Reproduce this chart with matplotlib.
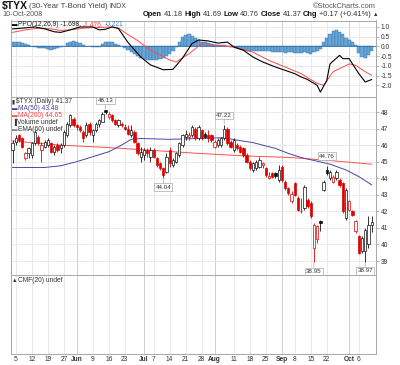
import matplotlib
matplotlib.use('Agg')
import matplotlib.pyplot as plt

# $TYX daily candles, trading days 2 May .. 10 Oct 2008
opens = [45.7, 46.2, 46.6, 46.4, 45.2, 45.5, 45.4, 46.1, 46.5, 45.7,
         45.9, 46.0, 46.1, 45.6, 46.0, 45.8, 46.0, 46.6, 47.2, 47.6,
         47.2, 47.1, 46.8, 46.6, 47.3, 46.6, 46.9, 47.3, 47.4, 48.1,
         47.7, 47.8, 47.5, 47.2, 47.3, 47.1, 47.0, 46.6, 46.8, 46.1,
         45.3, 45.4, 45.7, 45.3, 45.7, 45.2, 44.9, 44.6, 44.4, 45.7,
         44.8, 45.0, 45.4, 46.0, 46.5, 46.5, 46.6, 47.0, 46.4, 46.9,
         46.7, 46.6, 46.6, 45.9, 46.0, 46.0, 46.4, 47.0, 46.2, 45.7,
         46.0, 45.9, 45.8, 45.4, 45.0, 44.5, 44.6, 44.7, 44.8, 44.6,
         44.0, 44.3, 44.3, 43.9, 44.7, 43.8, 43.4, 42.6, 43.7, 42.8,
         42.0, 42.2, 42.7, 42.5, 39.8, 40.3, 41.4, 43.3, 44.5, 44.0,
         43.8, 44.0, 43.9, 43.7, 41.6, 42.1, 42.0, 40.8, 40.5, 39.6,
         39.6, 40.0, 41.18]
highs = [46.3, 46.6, 46.7, 46.5, 45.6, 45.9, 46.2, 46.9, 46.6, 46.2,
         46.3, 46.4, 46.2, 46.0, 46.1, 46.1, 46.9, 47.4, 47.9, 47.7,
         47.3, 47.2, 46.9, 47.4, 47.4, 47.0, 47.4, 47.6, 48.0, 48.13,
         48.0, 47.9, 47.6, 47.6, 47.4, 47.3, 47.2, 47.2, 46.9, 46.2,
         45.9, 45.8, 45.8, 45.9, 45.8, 45.3, 45.0, 44.7, 45.5, 45.9,
         45.2, 45.6, 46.2, 46.7, 46.9, 46.8, 47.2, 47.1, 47.2, 47.0,
         46.8, 46.9, 46.7, 46.3, 46.4, 46.5, 47.22, 47.1, 46.3, 46.4,
         46.1, 46.0, 45.9, 45.5, 45.1, 45.0, 45.1, 45.3, 45.0, 44.7,
         44.4, 44.4, 44.4, 44.8, 44.8, 43.9, 43.5, 43.2, 43.8, 42.9,
         42.8, 43.6, 42.8, 42.6, 41.3, 41.2, 41.5, 43.9, 44.76, 44.5,
         44.2, 44.5, 44.0, 43.8, 43.4, 42.7, 42.1, 41.5, 40.6, 40.5,
         41.0, 41.7, 41.69]
lows = [44.9, 46.0, 46.2, 45.8, 45.1, 45.2, 45.2, 46.0, 46.0, 45.0,
        45.8, 45.9, 45.5, 45.4, 45.6, 45.5, 45.9, 46.5, 47.1, 47.1,
        46.9, 46.8, 46.2, 46.5, 46.6, 46.2, 46.8, 47.1, 47.4, 47.9,
        47.6, 47.4, 47.2, 47.1, 47.1, 46.9, 46.6, 46.5, 46.1, 45.4,
        45.0, 45.1, 45.3, 45.0, 45.2, 44.7, 44.5, 44.04, 44.3, 44.7,
        44.7, 44.9, 45.3, 45.9, 46.3, 46.3, 46.5, 46.3, 46.3, 46.3,
        46.4, 46.2, 46.2, 45.8, 45.9, 45.9, 46.3, 46.0, 45.8, 45.6,
        45.7, 45.5, 45.3, 44.9, 44.5, 44.4, 44.5, 44.6, 44.6, 44.1,
        43.95, 44.0, 44.0, 43.8, 43.8, 43.3, 43.0, 42.5, 42.9, 42.0,
        41.9, 42.1, 42.2, 41.6, 38.95, 40.1, 40.8, 43.2, 44.2, 43.9,
        43.7, 43.9, 43.5, 41.9, 41.5, 42.0, 41.7, 40.7, 39.4, 39.5,
        38.97, 39.8, 40.76]
closes = [46.1, 46.4, 46.3, 45.9, 45.5, 45.8, 46.1, 46.8, 46.1, 46.0,
          46.2, 46.3, 45.6, 45.9, 45.7, 46.0, 46.8, 47.3, 47.8, 47.2,
          47.1, 46.9, 46.4, 47.2, 46.8, 46.9, 47.3, 47.5, 47.9, 48.0,
          47.9, 47.5, 47.3, 47.5, 47.2, 47.0, 46.7, 46.9, 46.2, 45.5,
          45.6, 45.7, 45.5, 45.7, 45.3, 44.8, 44.6, 44.2, 45.3, 44.9,
          45.1, 45.5, 46.1, 46.6, 46.7, 46.6, 47.1, 46.4, 47.1, 46.4,
          46.5, 46.4, 46.3, 46.2, 46.3, 46.4, 47.0, 46.1, 45.9, 46.3,
          45.8, 45.6, 45.4, 45.0, 44.6, 44.9, 45.0, 45.1, 44.9, 44.2,
          44.15, 44.1, 44.15, 44.5, 43.9, 43.4, 43.1, 43.05, 43.0, 42.1,
          42.05, 43.5, 42.3, 41.7, 41.2, 41.1, 41.3, 43.8, 44.3, 44.4,
          44.1, 44.4, 43.6, 42.0, 43.3, 42.6, 41.8, 41.4, 39.5, 40.4,
          40.9, 41.2, 41.37]

# moving averages, sampled along the lines
ma50_days = [0, 10, 15, 20, 25, 30, 34, 37, 40, 49, 58, 66, 70, 75, 82, 86, 90, 99, 104, 108, 112]
ma50 = [44.65, 44.65, 44.75, 45.0, 45.3, 45.6, 46.0, 46.35, 46.4, 46.35, 46.4,
        46.45, 46.3, 46.15, 45.8, 45.5, 45.25, 44.85, 44.5, 44.1, 43.6]
ma200_days = [0, 15, 30, 38, 58, 72, 87, 100, 112]
ma200 = [46.25, 46.0, 45.85, 45.75, 45.5, 45.35, 45.25, 45.05, 44.85]

# PPO(12,26,9)
ppo_days = [0, 4, 7, 10, 13, 15, 18, 21, 25, 27, 29, 31, 33, 36, 40, 43, 47, 50, 53, 56,
            58, 61, 64, 67, 69, 72, 75, 78, 82, 85, 88, 90, 92, 95, 96, 98, 99, 102, 103, 105,
            106, 108, 110, 112]
ppo = [0.9, 0.95, 1.0, 0.9, 0.75, 0.72, 0.85, 1.0, 1.0, 0.85, 0.88, 1.0, 0.92, 0.2,
       -0.55, -0.95, -1.2, -1.18, -0.6, 0.15, 0.33, 0.28, 0.17, 0.22, -0.03, -0.2, -0.55,
       -0.8, -1.06, -1.23, -1.4, -1.57, -1.7, -2.0, -2.35, -1.75, -0.9, -0.46, -0.63,
       -0.63, -0.9, -1.4, -1.83, -1.7]
sig_days = [0, 4, 8, 12, 15, 18, 23, 28, 31, 33, 36, 39, 43, 49, 51, 55, 59, 64, 69, 75,
            80, 85, 90, 95, 97, 100, 105, 107, 110, 112]
signal = [0.72, 0.85, 0.93, 0.9, 0.82, 0.85, 0.95, 0.98, 1.0, 0.95, 0.6, 0.3, -0.2, -0.7,
          -0.8, -0.38, 0.14, 0.05, -0.03, -0.3, -0.72, -1.06, -1.4, -1.9, -2.0, -1.3, -0.9,
          -0.97, -1.3, -1.48]
hist = [0.2, 0.22, 0.2, 0.15, 0.1, 0.05, 0.0, -0.05, -0.07, -0.08,
        -0.1, -0.15, -0.17, -0.15, -0.1, -0.05, 0.0, 0.15, 0.25, 0.3,
        0.25, 0.15, 0.08, 0.03, 0.0, -0.03, -0.05, -0.02, 0.1, 0.22,
        0.25, 0.2, 0.1, 0.05, 0.0, -0.1, -0.2, -0.3, -0.4, -0.5,
        -0.6, -0.65, -0.7, -0.72, -0.7, -0.68, -0.65, -0.6, -0.5, -0.4,
        -0.25, -0.05, 0.25, 0.5, 0.6, 0.62, 0.55, 0.45, 0.35, 0.25,
        0.2, 0.15, 0.1, 0.08, 0.05, 0.05, 0.08, 0.02, -0.03, -0.05,
        -0.1, -0.15, -0.2, -0.22, -0.25, -0.25, -0.25, -0.25, -0.25, -0.22,
        -0.25, -0.28, -0.28, -0.3, -0.3, -0.32, -0.3, -0.3, -0.32, -0.35,
        -0.33, -0.3, -0.35, -0.4, -0.3, -0.25, -0.15, 0.2, 0.45, 0.65,
        0.8, 0.85, 0.75, 0.65, 0.45, 0.35, 0.2, 0.05, -0.35, -0.55,
        -0.6, -0.45, -0.22]

tick_days = [1, 6, 11, 16, 20, 25, 30, 35, 41, 44, 49, 54, 59, 63, 69, 74, 79, 84, 88, 93, 98, 105, 108]
tick_labels = ['5', '12', '19', '27', 'Jun', '9', '16', '23', 'Jul', '7', '14', '21', '28',
               'Aug', '11', '18', '25', 'Sep', '8', '15', '22', 'Oct', '6']
month_days = [20, 41, 63, 84, 105]
price_ticks = [39, 40, 41, 42, 43, 44, 45, 46, 47, 48]
ppo_ticks = [1.0, 0.5, 0.0, -0.5, -1.0, -1.5, -2.0]

# labelled highs / lows
note_days = [29, 66, 98, 47, 94, 110]
note_high = [True, True, True, False, False, False]


plt.rcParams['font.family'] = ['Liberation Sans', 'DejaVu Sans']
FS = 4.8
GRID = '#e6e6e6'

fig = plt.figure(figsize=(4.0, 3.65), dpi=100)


def rect(top, bottom):
    return [11 / 400, 1 - bottom / 365, 365 / 400, (bottom - top) / 365]


ax_ppo = fig.add_axes(rect(20.5, 97))
ax_px = fig.add_axes(rect(97, 275))
ax_cmf = fig.add_axes(rect(275, 354))

days = list(range(len(closes)))

for ax in (ax_ppo, ax_px, ax_cmf):
    ax.set_xlim(-0.5, 113.35)
    for d in tick_days:
        ax.axvline(d, color='#c8c8c8' if d in month_days else GRID, lw=0.6, zorder=0)
    for s in ax.spines.values():
        s.set_color('#a8a8a8')
        s.set_linewidth(0.7)
    ax.set_xticks(tick_days)
    ax.tick_params(axis='x', length=0, labelbottom=False)
    ax.yaxis.tick_right()
    ax.tick_params(axis='y', length=2, width=0.5, color='#999999', pad=1.5,
                   labelsize=FS, labelcolor='#333333')

# --- PPO panel
ax_ppo.set_ylim(-2.6, 1.33)
ax_ppo.set_yticks(ppo_ticks)
ax_ppo.set_yticklabels(['%.1f' % v for v in ppo_ticks])
ax_ppo.grid(axis='y', color=GRID, lw=0.6)
ax_ppo.set_axisbelow(True)
ax_ppo.bar(days, hist, width=1.0, color='#6aa6d6', edgecolor='#2f72ad', linewidth=0.3, zorder=2)
ax_ppo.axhline(0, color='#2f72ad', lw=0.6, zorder=2)
ax_ppo.plot(sig_days, signal, color='#ff4a4a', lw=0.7, zorder=3)
ax_ppo.plot(ppo_days, ppo, color='black', lw=0.8, zorder=4)

# --- price panel
ax_px.set_ylim(38.155, 48.906)
ax_px.set_yticks(price_ticks)
ax_px.grid(axis='y', color=GRID, lw=0.6)
ax_px.set_axisbelow(True)
ax_px.plot(ma200_days, ma200, color='#ff5050', lw=0.7, zorder=2)
ax_px.plot(ma50_days, ma50, color='#4646a6', lw=0.7, zorder=2)

cols, faces, bottoms, heights = [], [], [], []
for i in days:
    fell = i > 0 and closes[i] < closes[i - 1]
    c = '#dd0000' if fell else '#111111'
    cols.append(c)
    faces.append('white' if closes[i] > opens[i] else c)
    bottoms.append(min(opens[i], closes[i]))
    heights.append(max(abs(closes[i] - opens[i]), 0.04))
ax_px.vlines(days, lows, highs, colors=cols, lw=0.6, zorder=3)
ax_px.bar(days, heights, bottom=bottoms, width=0.72, color=faces,
          edgecolor=cols, linewidth=0.5, zorder=4)

for d, up in zip(note_days, note_high):
    v = highs[d] if up else lows[d]
    ax_px.annotate('%.2f' % v, xy=(d, v), xytext=(0, 5 if up else -5),
                   textcoords='offset points', ha='center',
                   va='bottom' if up else 'top', fontsize=FS - 0.3, color='#333333',
                   bbox=dict(boxstyle='square,pad=0.2', fc='white', ec='#aaaaaa', lw=0.5),
                   arrowprops=dict(arrowstyle='-', color='#aaaaaa', lw=0.5,
                                   shrinkA=0, shrinkB=0.5), zorder=6)

# --- CMF panel (empty)
ax_cmf.set_ylim(0, 1)
ax_cmf.set_yticks([])
ax_cmf.set_xticks(tick_days)
ax_cmf.set_xticklabels(tick_labels)
ax_cmf.tick_params(axis='x', length=0, pad=1.5, labelbottom=True, labelsize=FS,
                   labelcolor='#333333')
for lab in ax_cmf.get_xticklabels():
    if lab.get_text() in ('Jun', 'Jul', 'Aug', 'Sep', 'Oct'):
        lab.set_fontweight('bold')

# --- texts
renderer = fig.canvas.get_renderer()


def run(x, y, parts, align='left', gap=1.6):
    seq = parts if align == 'left' else parts[::-1]
    for s, kw in seq:
        t = fig.text(x / 400, 1 - y / 365, s, ha=align, va='center', **kw)
        w = t.get_window_extent(renderer).width
        x = x + w + gap if align == 'left' else x - w - gap


run(1.5, 6.5, [('$TYX', dict(fontsize=7.5, fontweight='bold', color='#111111')),
               ('(30-Year T-Bond Yield)', dict(fontsize=5.6, color='#444444')),
               ('INDX', dict(fontsize=5, color='#444444'))])
fig.text(376 / 400, 1 - 6 / 365, '\u00a9StockCharts.com', ha='right', va='center',
         fontsize=5.4, color='#555555')
fig.text(2 / 400, 1 - 15 / 365, '10-Oct-2008', ha='left', va='center', fontsize=5.2,
         color='#555555')
B = dict(fontsize=5.4, fontweight='bold', color='#111111')
R = dict(fontsize=5.4, color='#333333')
run(378, 15, [('Open', B), ('41.18', R), ('High', B), ('41.69', R), ('Low', B),
              ('40.76', R), ('Close', B), ('41.37', R), ('Chg', B),
              ('+0.17 (+0.41%)', R), ('\u25b2', dict(fontsize=4, color='#333333'))],
    align='right')

run(11.5, 24.5, [('\u25ac', dict(fontsize=4, color='black')),
                 ('PPO(12,26,9) -1.698,', dict(fontsize=FS, color='#222222')),
                 ('-1.476,', dict(fontsize=FS, color='#ff4040')),
                 ('-0.221', dict(fontsize=FS, color='#3b86c4'))], gap=1.2)

legend_rows = [('\u25ae', '#333333', '$TYX (Daily) 41.37', '#333333'),
               ('\u25ac', '#4646a6', 'MA(50) 43.48', '#4646a6'),
               ('\u25ac', '#ff5050', 'MA(200) 44.65', '#ff4040'),
               ('\u2590', '#333333', 'Volume undef', '#333333'),
               ('\u25ac', '#888888', 'EMA(60) undef', '#333333')]
for k, (icon, icol, txt, tcol) in enumerate(legend_rows):
    run(12, 101.5 + 7 * k, [(icon, dict(fontsize=4, color=icol)),
                            (txt, dict(fontsize=FS, color=tcol))], gap=1.0)

run(12, 280, [('\u25b2', dict(fontsize=4, color='#333333')),
              ('CMF(20) undef', dict(fontsize=FS, color='#333333'))], gap=1.0)

fig.savefig('out.png', dpi=100, facecolor='white')
